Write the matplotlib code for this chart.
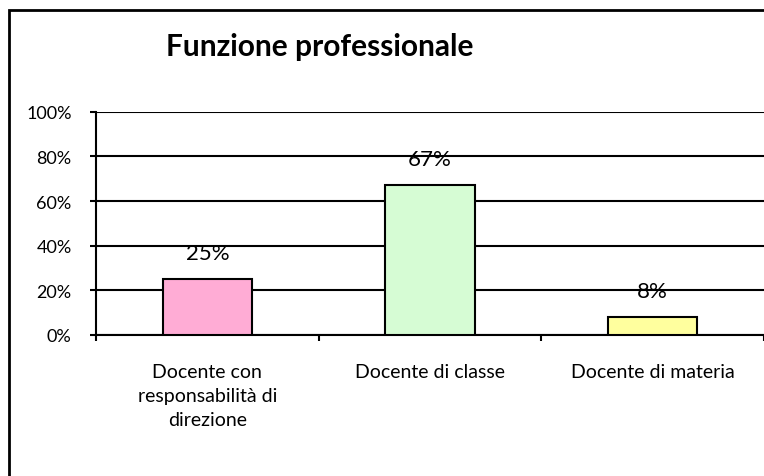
import matplotlib.pyplot as plt
from matplotlib.patches import Rectangle
from matplotlib.ticker import PercentFormatter

# data
categories = ["Docente con\nresponsabilità di\ndirezione", "Docente di classe", "Docente di materia"]
shares = [0.25, 0.67, 0.08]
labels = ["25%", "67%", "8%"]
colors = ["#FFACD5", "#D6FCD4", "#FFFF9E"]
y_ticks = [0, 0.2, 0.4, 0.6, 0.8, 1.0]

plt.rcParams["font.family"] = ["Lato", "DejaVu Sans"]

fig = plt.figure(figsize=(7.64, 4.77), dpi=100)
ax = fig.add_axes([96 / 764, 1 - 336 / 477, 1 - 96 / 764, (336 - 112.7) / 477])

x = list(range(len(categories)))
ax.bar(x, shares, width=0.4, color=colors, edgecolor="black", linewidth=1.5, zorder=3)

for xi, v, lab in zip(x, shares, labels):
    ax.annotate(lab, (xi, v), xytext=(0, 19), textcoords="offset points",
                ha="center", va="center", fontsize=16, zorder=1)

ax.set_xlim(-0.5, len(categories) - 0.5)
ax.set_ylim(0, 1)
ax.set_yticks(y_ticks)
ax.yaxis.set_major_formatter(PercentFormatter(1.0, decimals=0))
ax.tick_params(axis="y", length=4.5, width=1.5, pad=13, labelsize=13)

# boundary ticks on the x axis, labels at category centres
ax.set_xticks([i - 0.5 for i in range(len(categories) + 1)])
ax.set_xticklabels([])
ax.set_xticks(x, minor=True)
ax.set_xticklabels(categories, minor=True, fontsize=14, linespacing=1.5)
ax.tick_params(axis="x", which="major", length=4.5, width=1.5)
ax.tick_params(axis="x", which="minor", length=0, pad=20)

ax.grid(axis="y", color="black", linewidth=1.5, zorder=2)
for s in ["top", "right"]:
    ax.spines[s].set_visible(False)
for s in ["left", "bottom"]:
    ax.spines[s].set_linewidth(1.5)

fig.text(320 / 764, 1 - 47 / 477, "Funzione professionale", ha="center", va="center",
         fontsize=21.5, fontweight="bold")

# chart frame, running off the right and bottom edges
fig.add_artist(Rectangle((9 / 764, -0.1), 1.2, 1 - 11 / 477 + 0.1, transform=fig.transFigure,
                         fill=False, edgecolor="black", linewidth=2, clip_on=False))

fig.savefig("out.png", dpi=100)
